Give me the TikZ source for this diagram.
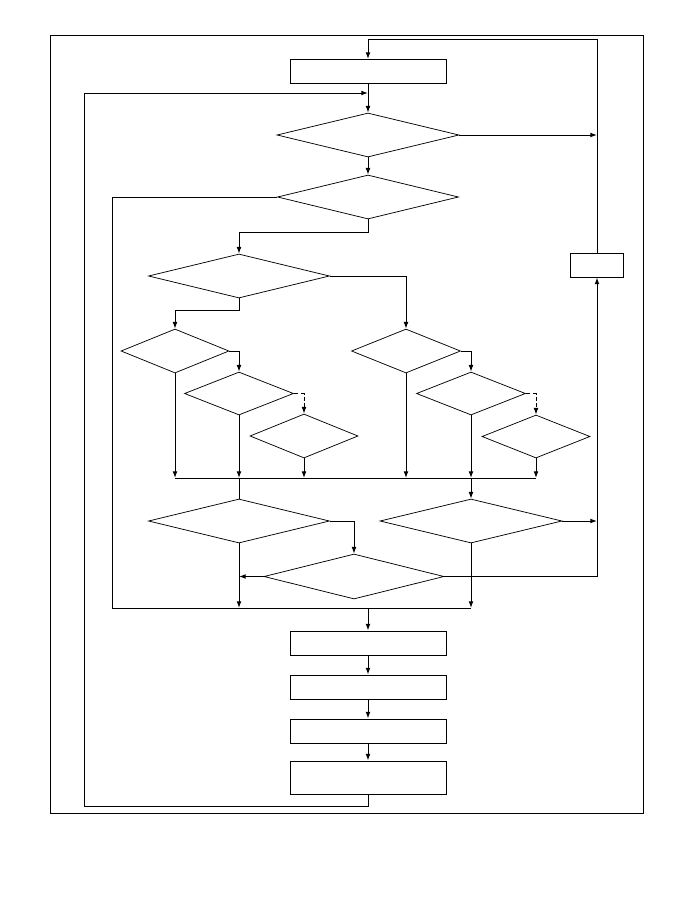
\documentclass[tikz,border=0pt]{standalone}
\usetikzlibrary{shapes.geometric,arrows.meta}
\begin{document}
\begin{tikzpicture}[x=0.75pt,y=-0.75pt,
  line width=0.75pt,
  arr/.style={-{Latex[length=5pt,width=3.6pt]}},
  boxn/.style={draw,rectangle,inner sep=0pt,minimum width=156*0.75pt,minimum height=24*0.75pt},
  dia/.style={draw,diamond,inner sep=0pt,line width=0.55pt,minimum height=44*0.75pt},
  dashl/.style={dash pattern=on 3pt off 2pt}]
\useasboundingbox (0,0) rectangle (679,901);
\draw (50,35) rectangle (643,813);
% nodes
\node[boxn] (b1) at (368,71.5) {};
\node[dia,minimum width=182*0.75pt] (d1) at (368,135) {};
\node[dia,minimum width=181*0.75pt] (d2) at (368,197) {};
\node[dia,minimum width=181*0.75pt] (d3) at (239,276) {};
\node[dia,minimum width=108*0.75pt] (d4) at (175,351) {};
\node[dia,minimum width=109*0.75pt,minimum height=43*0.75pt] (d5) at (239,393.5) {};
\node[dia,minimum width=108*0.75pt] (d6) at (304,436) {};
\node[dia,minimum width=109*0.75pt] (r1) at (406,351) {};
\node[dia,minimum width=109*0.75pt,minimum height=43*0.75pt] (r2) at (471,393.5) {};
\node[dia,minimum width=108*0.75pt,minimum height=43*0.75pt] (r3) at (536,436.5) {};
\node[draw,rectangle,inner sep=0pt,minimum width=53*0.75pt,minimum height=24*0.75pt] (rb) at (597,265) {};
\node[dia,minimum width=181*0.75pt] (d7) at (239,521) {};
\node[dia,minimum width=182*0.75pt] (d8) at (471,521) {};
\node[dia,minimum width=180*0.75pt,minimum height=45*0.75pt] (d9) at (354,576.5) {};
\node[boxn] (bA) at (368,643) {};
\node[boxn] (bB) at (368,687) {};
\node[boxn] (bC) at (368,731) {};
\node[boxn,minimum height=33*0.75pt] (bD) at (368,777.5) {};
% coordinates
\coordinate (ctop) at (368,39);
\coordinate (cbl) at (84,806);
\coordinate (cj1) at (368,93);
\coordinate (j1) at (597,135);
\coordinate (cml) at (112,608);
\coordinate (cmr) at (471,608);
\coordinate (cmid) at (368,608);
\coordinate (bl) at (175,478);
\coordinate (br) at (536,478);
% connectors
\draw[arr] (rb.north) |- (ctop) -- (b1.north);
\draw[arr] (bD.south) |- (cbl) |- (cj1);
\draw[arr] (b1.south) -- (d1.north);
\draw[arr] (d1.east) -- (j1);
\draw[arr] (d1.south) -- (d2.north);
\draw (d2.west) -| (cml) -- (cmr);
\draw[arr] (d2.south) -- ++(0,13) -| (d3.north);
\draw[arr] (d3.south) -- ++(0,12) -| (d4.north);
\draw[arr] (d3.east) -| (r1.north);
\draw[arr] (d4.east) -| (d5.north);
\draw[arr,dashl] (d5.east) -| (d6.north);
\draw[arr] (r1.east) -| (r2.north);
\draw[arr,dashl] (r2.east) -| (r3.north);
\draw (bl) -- (br);
\draw[arr] (d4.south) -- (d4.south |- bl);
\draw[arr] (d5.south) -- (d5.south |- bl);
\draw[arr] (d6.south) -- (d6.south |- bl);
\draw[arr] (r1.south) -- (r1.south |- bl);
\draw[arr] (r2.south) -- (r2.south |- bl);
\draw[arr] (r3.south) -- (r3.south |- bl);
\draw (d5.south |- bl) -- (d7.north);
\draw[arr] (r2.south |- bl) -- (d8.north);
\draw[arr] (d7.east) -| (d9.north);
\draw[arr] (d8.east) -- (d8.east -| rb);
\draw[arr] (d9.west) -- (d9.west -| d7);
\draw[arr] (d9.east) -| (rb.south);
\draw[arr] (d7.south) -- (d7.south |- cml);
\draw[arr] (d8.south) -- (cmr);
\draw[arr] (cmid) -- (bA.north);
\draw[arr] (bA.south) -- (bB.north);
\draw[arr] (bB.south) -- (bC.north);
\draw[arr] (bC.south) -- (bD.north);
\end{tikzpicture}
\end{document}
